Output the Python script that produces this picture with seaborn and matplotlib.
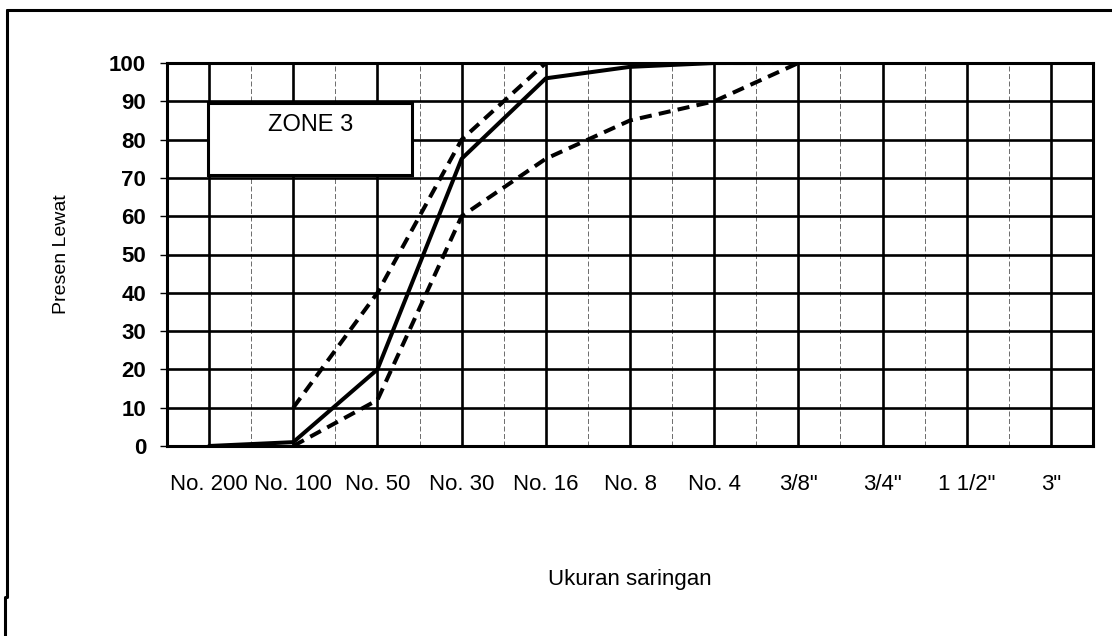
import numpy as np
import pandas as pd
import seaborn as sns
import matplotlib.pyplot as plt
from matplotlib.lines import Line2D
from matplotlib.patches import Rectangle

# sieve sizes (x categories) and percent passing
sieves = ['No. 200', 'No. 100', 'No. 50', 'No. 30', 'No. 16', 'No. 8',
          'No. 4', '3/8"', '3/4"', '1 1/2"', '3"']
passing = [0, 1, 20, 75, 96, 99, 100, 100]
upper_limit = [np.nan, 10, 40, 80, 100, 100, 100, 100]
lower_limit = [np.nan, 0, 12, 60, 75, 85, 90, 100]
y_ticks = list(range(0, 101, 10))

rows = []
for name, vals in [('gradasi', passing), ('batas atas', upper_limit), ('batas bawah', lower_limit)]:
    for i, v in enumerate(vals):
        rows.append({'pos': i, 'sieve': sieves[i], 'value': v, 'curve': name})
df = pd.DataFrame(rows).dropna()

sns.set_theme(style='white')
plt.rcParams['font.family'] = ['Liberation Sans', 'DejaVu Sans']

W, H = 1112, 636
fig = plt.figure(figsize=(W / 100, H / 100), dpi=100)
ax = fig.add_axes([167 / W, 1 - 446 / H, 926 / W, 383 / H])

sns.lineplot(data=df, x='pos', y='value', style='curve', units='curve', estimator=None,
             dashes={'gradasi': '', 'batas atas': (3, 1.8), 'batas bawah': (3, 1.8)},
             color='black', linewidth=2.9, legend=False, sort=False, ax=ax, zorder=5)

ax.set_xlim(-0.5, len(sieves) - 0.5)
ax.set_ylim(0, 100)
ax.set_xticks(range(len(sieves)))
ax.set_xticklabels(sieves, fontsize=16)
ax.set_xticks(np.arange(0.5, len(sieves) - 1, 1), minor=True)
ax.set_yticks(y_ticks)
ax.set_yticklabels([str(t) for t in y_ticks], fontsize=16, fontweight='bold')

ax.grid(which='major', color='black', linewidth=1.9)
ax.grid(which='minor', axis='x', color='#555555', linewidth=0.6, linestyle=(0, (6, 3)))
ax.set_axisbelow(True)
ax.tick_params(axis='x', which='both', length=0, pad=20, colors='black')
ax.tick_params(axis='y', which='major', length=5, width=1, pad=10, left=True, colors='black')
ax.tick_params(axis='y', which='minor', length=0)
for s in ax.spines.values():
    s.set_linewidth(2.2)
    s.set_color('black')

ax.set_xlabel('Ukuran saringan', fontsize=16, color='black')
ax.xaxis.set_label_coords(0.5, -(580 - 446) / 383)
ax.xaxis.label.set_verticalalignment('center')
ax.set_ylabel('Presen Lewat', fontsize=14, color='black')
ax.yaxis.set_label_coords((61 - 167) / 926, 0.5)
ax.yaxis.label.set_verticalalignment('center')

# zone box
ax.add_patch(Rectangle((41 / 926, (446 - 175) / 383), 204 / 926, 72 / 383,
                       transform=ax.transAxes, facecolor='white', edgecolor='black',
                       linewidth=2.2, zorder=4))
ax.text((311 - 167) / 926, (446 - 125) / 383, 'ZONE 3', transform=ax.transAxes,
        ha='center', va='center', fontsize=17, color='black', zorder=6)

# outer frame of the scanned page
fig.add_artist(Line2D([7 / W, 1.0], [1 - 10 / H, 1 - 10 / H], transform=fig.transFigure,
                      color='black', linewidth=2.2))
fig.add_artist(Line2D([7 / W, 7 / W], [1 - 10 / H, 1 - 597 / H], transform=fig.transFigure,
                      color='black', linewidth=2.2))
fig.add_artist(Line2D([5 / W, 5 / W], [1 - 597 / H, 0], transform=fig.transFigure,
                      color='black', linewidth=2.2))

fig.savefig('out.png', dpi=100, facecolor='white')
